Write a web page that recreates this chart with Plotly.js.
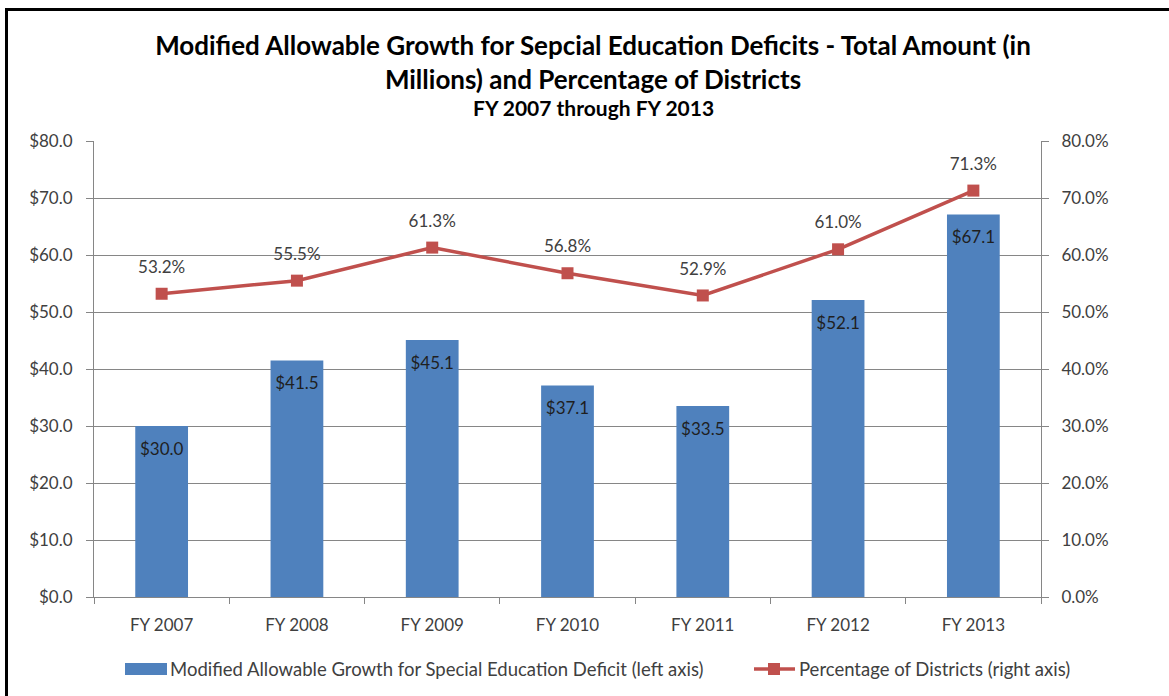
<!DOCTYPE html>
<html>
<head>
<meta charset="utf-8">
<script src="https://cdn.plot.ly/plotly-3.0.1.min.js"></script>
<style>
  html, body { margin:0; padding:0; background:#fff; }
  #wrap { position:relative; width:1169px; height:696px; overflow:hidden; }
  #chart { position:absolute; left:0; top:0; width:1169px; height:696px; }
  #frame { position:absolute; left:5px; top:8px; width:1300px; height:800px;
           border-left:3px solid #000; border-top:3px solid #000; pointer-events:none; }
</style>
</head>
<body>
<div id="wrap">
  <div id="chart"></div>
  <div id="frame"></div>
</div>
<script>
const categories = ["FY 2007", "FY 2008", "FY 2009", "FY 2010", "FY 2011", "FY 2012", "FY 2013"];
const amounts = [30.0, 41.5, 45.1, 37.1, 33.5, 52.1, 67.1];
const percents = [53.2, 55.5, 61.3, 56.8, 52.9, 61.0, 71.3];
const barName = "Modified Allowable Growth for Special Education Deficit (left axis)";
const lineName = "Percentage of Districts (right axis)";
const titleText = "Modified Allowable Growth for Sepcial Education Deficits - Total Amount (in<br>Millions) and Percentage of Districts";
const subtitleText = "FY 2007 through FY 2013";
const leftTicks = [0, 10, 20, 30, 40, 50, 60, 70, 80];
const rightTicks = [0, 10, 20, 30, 40, 50, 60, 70, 80];

const W = 1169, H = 696;
const L = 94, R = 1041, T = 141, B = 597;
const px = x => (x - L) / (R - L);
const py = y => (B - y) / (B - T);

const FONT = "Lato, 'Open Sans', sans-serif";
const barColor = "#4F81BD";
const lineColor = "#C0504D";
const textColor = "#404040";
const TICK = 17;

const bars = {
  type: "bar", x: categories, y: amounts, name: barName,
  marker: { color: barColor }, showlegend: false, hoverinfo: "skip"
};
const barLabels = {
  type: "scatter", mode: "markers+text", x: categories, y: amounts,
  marker: { size: 24, color: "rgba(0,0,0,0)" },
  text: amounts.map(v => "$" + v.toFixed(1)),
  textposition: "bottom center",
  textfont: { family: FONT, size: TICK, color: "#1F1F1F" },
  cliponaxis: false, showlegend: false, hoverinfo: "skip"
};
const line = {
  type: "scatter", mode: "lines+markers", x: categories, y: percents, yaxis: "y2",
  name: lineName,
  line: { color: lineColor, width: 3.5 },
  marker: { color: lineColor, symbol: "square", size: 12 },
  cliponaxis: false, showlegend: false, hoverinfo: "skip"
};
const lineLabels = {
  type: "scatter", mode: "markers+text", x: categories, y: percents, yaxis: "y2",
  marker: { size: 25, color: "rgba(0,0,0,0)" },
  text: percents.map(v => v.toFixed(1) + "%"),
  textposition: "top center",
  textfont: { family: FONT, size: TICK, color: textColor },
  cliponaxis: false, showlegend: false, hoverinfo: "skip"
};

const layout = {
  width: W, height: H,
  margin: { l: L, r: W - R, t: T, b: H - B, pad: 0 },
  paper_bgcolor: "#fff", plot_bgcolor: "#fff",
  font: { family: FONT, size: TICK, color: textColor },
  bargap: 0.61,
  title: {
    text: "<b>" + titleText + "</b>",
    font: { family: FONT, size: 26, color: "#000" },
    x: px(593), xanchor: "center", xref: "paper",
    y: 1 - 55 / H, yanchor: "top", yref: "container"
  },
  xaxis: {
    type: "category", showgrid: false, showline: true, linecolor: "#868686", linewidth: 1,
    ticks: "outside", ticklen: 6, tickcolor: "#868686", tickson: "boundaries",
    tickfont: { family: FONT, size: TICK, color: textColor }, ticklabelstandoff: 13, fixedrange: true
  },
  yaxis: {
    range: [0, 80], tickvals: leftTicks, ticktext: leftTicks.map(v => "$" + v.toFixed(1)),
    showgrid: true, gridcolor: "#868686", gridwidth: 1, zeroline: false,
    showline: true, linecolor: "#868686", ticks: "outside", ticklen: 7, tickcolor: "#868686",
    tickfont: { family: FONT, size: TICK, color: textColor }, ticklabelstandoff: 10, fixedrange: true
  },
  yaxis2: {
    overlaying: "y", side: "right", range: [0, 80], tickvals: rightTicks,
    ticktext: rightTicks.map(v => v.toFixed(1) + "%"),
    showgrid: false, zeroline: false, showline: true, linecolor: "#868686",
    ticks: "outside", ticklen: 7, tickcolor: "#868686",
    tickfont: { family: FONT, size: TICK, color: textColor }, ticklabelstandoff: 9, fixedrange: true
  },
  shapes: [
    { type: "rect", xref: "paper", yref: "paper", x0: px(125), x1: px(167), y0: py(675), y1: py(663),
      fillcolor: barColor, line: { width: 0 } },
    { type: "line", xref: "paper", yref: "paper", x0: px(754), x1: px(795), y0: py(669), y1: py(669),
      line: { color: lineColor, width: 3.5 } },
    { type: "rect", xref: "paper", yref: "paper", x0: px(768), x1: px(780), y0: py(675), y1: py(663),
      fillcolor: lineColor, line: { width: 0 } }
  ],
  annotations: [
    { xref: "paper", yref: "paper", x: px(593), y: py(107), xanchor: "center", yanchor: "middle",
      text: "<b>" + subtitleText + "</b>", showarrow: false, font: { family: FONT, size: 21, color: "#000" } },
    { xref: "paper", yref: "paper", x: px(168), y: py(669), xanchor: "left", yanchor: "middle",
      text: barName, showarrow: false, font: { family: FONT, size: 18.5, color: textColor } },
    { xref: "paper", yref: "paper", x: px(797), y: py(669), xanchor: "left", yanchor: "middle",
      text: lineName, showarrow: false, font: { family: FONT, size: 18.5, color: textColor } }
  ],
  showlegend: false
};

Plotly.newPlot("chart", [bars, line, barLabels, lineLabels], layout, { staticPlot: true, displayModeBar: false });
</script>
</body>
</html>
